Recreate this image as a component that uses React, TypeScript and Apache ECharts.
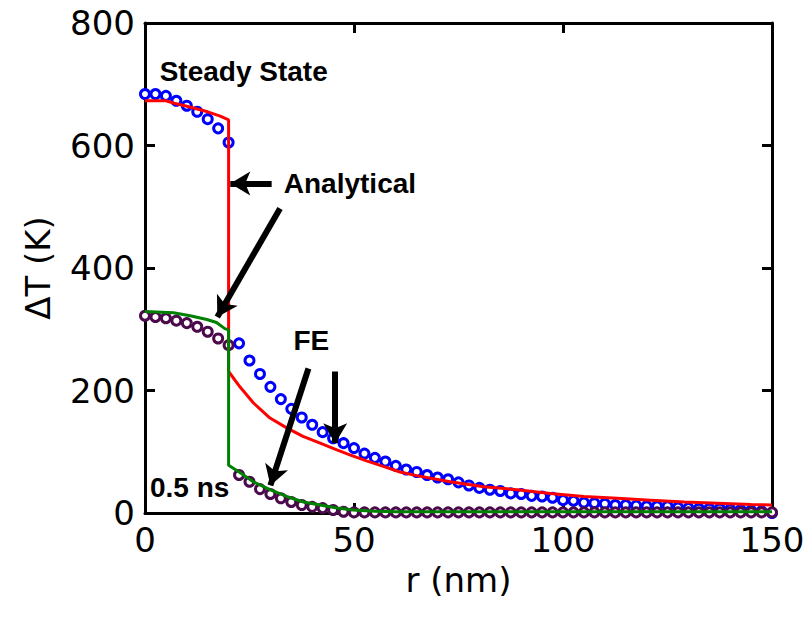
import React, { useEffect, useRef } from "react";
import * as echarts from "echarts";

const rFE = [
  0, 2.5, 5, 7.5, 10, 12.5, 15, 17.5, 20, 22.5,
  25, 27.5, 30, 32.5, 35, 37.5, 40, 42.5, 45, 47.5,
  50, 52.5, 55, 57.5, 60, 62.5, 65, 67.5, 70, 72.5,
  75, 77.5, 80, 82.5, 85, 87.5, 90, 92.5, 95, 97.5,
  100, 102.5, 105, 107.5, 110, 112.5, 115, 117.5, 120, 122.5,
  125, 127.5, 130, 132.5, 135, 137.5, 140, 142.5, 145, 147.5,
  150,
];
const feSteady = [
  684, 684, 681, 673, 665, 655, 643, 628, 605, 277,
  249, 227, 206, 186, 170, 156, 144, 132, 122, 114,
  106, 97, 90, 84, 77, 71, 67, 62, 58, 55,
  50, 45, 41, 38, 36, 32, 31, 28, 27, 25,
  21, 20, 17, 16, 15, 13, 13, 12, 11, 11,
  11, 9, 8, 7, 7, 7, 6, 5, 4, 3,
  0,
];
const fe05ns = [
  322, 320, 318, 314, 310, 304, 296, 285, 274, 62,
  51, 39, 31, 24, 18, 13, 10, 8, 5, 2,
  1, 1, 1, 1, 1, 1, 1, 1, 1, 1,
  1, 1, 1, 1, 1, 1, 1, 1, 1, 1,
  1, 1, 1, 1, 1, 1, 1, 1, 1, 1,
  1, 1, 1, 1, 1, 1, 1, 1, 1, 1,
  1,
];
const rAnSteady = [0, 5, 7, 10, 15, 18, 20, 20, 22.7, 25.9, 29.9, 33.9, 37.8, 41.9, 45.9, 49, 53, 57, 61, 65, 73, 81, 89, 97, 105, 113, 121, 129, 137, 145, 150];
const anSteady = [673, 673, 669, 664, 655, 648, 642, 231, 206, 180, 155, 139, 125, 114, 103, 95, 85, 76, 67, 61, 51, 43, 38, 32, 27, 24, 21, 18, 16, 14, 13];
const rAn05 = [0, 6.8, 10.8, 14.8, 17.1, 19.1, 20, 20, 22.7, 25.9, 29.9, 33.9, 37.9, 41.9, 45.9, 49.8, 55, 60, 150];
const an05 = [329, 327, 322, 316, 311, 301, 299, 78, 66, 51, 38, 27, 18, 13, 8, 5, 3, 2, 2];

const xTicks = [0, 50, 100, 150];
const yTicks = [0, 200, 400, 600, 800];

// annotation arrows in data coordinates: [tailR, tailT, headR, headT]
const arrows = [
  [30.3, 538, 20.4, 538],
  [32.3, 497, 17.3, 320],
  [39.1, 236, 30.0, 45],
  [45.5, 231, 45.5, 114],
];
// annotation labels: [text, r, T]
const labels: [string, number, number][] = [
  ["Steady State", 3.5, 721],
  ["Analytical", 33.2, 538],
  ["FE", 35.5, 282],
  ["0.5 ns", 1.2, 42],
];

const zip = (xs: number[], ys: number[]) => xs.map((x, i) => [x, ys[i]]);

export default function App() {
  const ref = useRef<HTMLDivElement>(null);
  useEffect(() => {
    const chart = echarts.init(ref.current!, undefined, { renderer: "svg" });
    const axisFont = "DejaVu Sans";
    const annFont = "Liberation Sans";
    const mkAxis = (show: boolean) => ({
      axisLine: { show: true, onZero: false, lineStyle: { color: "#000", width: 3 } },
      axisTick: { show: true, inside: true, length: 10, lineStyle: { color: "#000", width: 3 } },
      axisLabel: { show },
      splitLine: { show: false },
    });
    const option: any = {
      animation: false,
      backgroundColor: "#fff",
      grid: { left: 145, right: 39, top: 23, bottom: 104, containLabel: false },
      xAxis: [
        {
          type: "value", min: 0, max: 150, interval: 50, position: "bottom",
          ...mkAxis(true),
          axisLabel: { show: true, fontFamily: axisFont, fontSize: 34, color: "#000", margin: 10,
            formatter: (v: number) => (xTicks.includes(v) ? String(v) : "") },
          name: "r (nm)", nameLocation: "middle", nameGap: 50,
          nameTextStyle: { fontFamily: axisFont, fontSize: 34, color: "#000", verticalAlign: "top" },
        },
        { type: "value", min: 0, max: 150, interval: 50, position: "top", ...mkAxis(false) },
      ],
      yAxis: [
        {
          type: "value", min: 0, max: 800, interval: 200, position: "left",
          ...mkAxis(true),
          axisLabel: { show: true, fontFamily: axisFont, fontSize: 34, color: "#000", margin: 10,
            formatter: (v: number) => (yTicks.includes(v) ? String(v) : "") },
          name: "ΔT (K)", nameLocation: "middle", nameGap: 90, nameRotate: 90,
          nameTextStyle: { fontFamily: axisFont, fontSize: 34, color: "#000" },
        },
        { type: "value", min: 0, max: 800, interval: 200, position: "right", ...mkAxis(false) },
      ],
      series: [
        {
          name: "FE steady", type: "scatter", data: zip(rFE, feSteady), symbol: "circle", symbolSize: 9,
          clip: false, itemStyle: { color: "#fff", borderColor: "#0000ff", borderWidth: 3, opacity: 1 },
        },
        {
          name: "Analytical steady", type: "line", data: zip(rAnSteady, anSteady), showSymbol: false,
          symbol: "none", lineStyle: { color: "#ff0000", width: 3 },
        },
        {
          name: "FE 0.5ns", type: "scatter", data: zip(rFE, fe05ns), symbol: "circle", symbolSize: 9,
          clip: false, itemStyle: { color: "#fff", borderColor: "#4b0a4b", borderWidth: 3, opacity: 1 },
        },
        {
          name: "Analytical 0.5ns", type: "line", data: zip(rAn05, an05), showSymbol: false,
          symbol: "none", lineStyle: { color: "#008000", width: 3 },
          markLine: {
            silent: true, symbol: ["none", "arrow"], symbolSize: [18, 20], animation: false,
            label: { show: false },
            lineStyle: { color: "#000", width: 6, type: "solid" },
            data: arrows.map((a) => [{ coord: [a[0], a[1]] }, { coord: [a[2], a[3]] }]),
          },
          markPoint: {
            silent: true, symbol: "circle", symbolSize: 0,
            data: labels.map((l) => ({
              coord: [l[1], l[2]],
              label: {
                show: true, formatter: l[0], position: "right", distance: 0,
                fontFamily: annFont, fontWeight: "bold", fontSize: 28, color: "#000",
              },
            })),
          },
        },
      ],
    };
    chart.setOption(option);
    return () => chart.dispose();
  }, []);
  return <div ref={ref} style={{ width: 811, height: 617, margin: "-8px 0 0 -8px" }} />;
}
